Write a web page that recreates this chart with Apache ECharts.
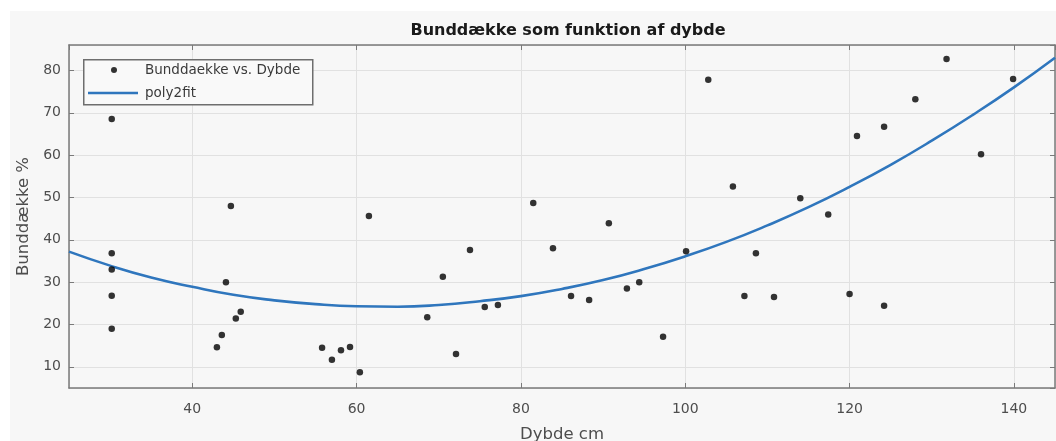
<!DOCTYPE html>
<html>
<head>
<meta charset="utf-8">
<script src="https://cdn.jsdelivr.net/npm/echarts@6/dist/echarts.min.js"></script>
<style>
html,body{margin:0;padding:0;background:#fff;}
#chart{width:1056px;height:441px;}
</style>
</head>
<body>
<div id="chart"></div>
<script>
// Measured data (Dybde cm, Bunddække %)
const depth = [30.2, 30.2, 30.2, 30.2, 30.2, 43.0, 43.6, 44.1, 44.7, 45.3, 45.9, 55.8, 57.0, 58.1, 59.2, 60.4, 61.5, 68.6, 70.5, 72.1, 73.8, 75.6, 77.2, 81.5, 83.9, 86.1, 88.3, 90.7, 92.9, 94.4, 97.3, 100.1, 102.8, 105.8, 107.2, 108.6, 110.8, 114.0, 117.4, 120.0, 120.9, 124.2, 124.2, 128.0, 131.8, 136.0, 139.9];
const cover = [68.5, 36.8, 33.0, 26.8, 19.0, 14.6, 17.5, 30.0, 48.0, 21.4, 23.0, 14.5, 11.7, 13.9, 14.7, 8.7, 45.6, 21.7, 31.3, 13.0, 37.6, 24.1, 24.6, 48.7, 38.0, 26.7, 25.8, 43.9, 28.5, 30.0, 17.1, 37.3, 77.8, 52.6, 26.7, 36.8, 26.5, 49.8, 46.0, 27.2, 64.5, 24.4, 66.7, 73.2, 82.7, 60.2, 78.0];
// poly2fit curve
const fitX = [25, 30, 35, 40, 45, 50, 55, 60, 65, 70, 75, 80, 85, 90, 95, 100, 105, 110, 115, 120, 125, 130, 135, 140, 145];
const fitY = [37.2, 33.9, 31.1, 28.9, 27.0, 25.7, 24.8, 24.3, 24.2, 24.6, 25.5, 26.7, 28.4, 30.5, 33.1, 36.1, 39.5, 43.4, 47.7, 52.5, 57.7, 63.4, 69.5, 76.0, 83.0];
const xRange = [25, 145];
const yRange = [5, 86];

const scatterData = depth.map((d, i) => [d, cover[i]]);
const fitData = fitX.map((x, i) => [x, fitY[i]]);

const FONT = 'DejaVu Sans, Liberation Sans, Arial, sans-serif';
const axisColor = '#7a7a7a';
const labelFont = {color: '#4d4d4d', fontSize: 14, fontFamily: FONT};
const nameFont = {color: '#4d4d4d', fontSize: 16.5, fontFamily: FONT};

function xAx(pos, main) {
  return {
    type: 'value', position: pos, min: xRange[0], max: xRange[1], splitNumber: 5,
    axisLine: {show: true, onZero: false, lineStyle: {color: axisColor, width: 1.5}},
    axisTick: {show: true, inside: true, length: 5, lineStyle: {color: axisColor, width: 1}},
    axisLabel: main ? Object.assign({show: true, margin: 14, showMinLabel: false, showMaxLabel: false}, labelFont) : {show: false},
    splitLine: {show: main, lineStyle: {color: '#e1e1e1', width: 1}},
    name: main ? 'Dybde cm' : '', nameLocation: 'middle', nameGap: 38,
    nameTextStyle: nameFont
  };
}
function yAx(pos, main) {
  return {
    type: 'value', position: pos, min: yRange[0], max: yRange[1], splitNumber: 8,
    axisLine: {show: true, onZero: false, lineStyle: {color: axisColor, width: 1.5}},
    axisTick: {show: true, inside: true, length: 5, lineStyle: {color: axisColor, width: 1}},
    axisLabel: main ? Object.assign({show: true, margin: 8, showMinLabel: false, showMaxLabel: false}, labelFont) : {show: false},
    splitLine: {show: main, lineStyle: {color: '#e1e1e1', width: 1}},
    name: main ? 'Bunddække %' : '', nameLocation: 'middle', nameGap: 36,
    nameTextStyle: nameFont
  };
}

const chart = echarts.init(document.getElementById('chart'), null, {renderer: 'canvas'});
chart.setOption({
  backgroundColor: '#ffffff',
  animation: false,
  graphic: [
    {type: 'rect', left: 10, top: 11, shape: {width: 1046, height: 430}, style: {fill: '#f7f7f7'}, z: -10},
    {type: 'rect', left: 83, top: 59, shape: {width: 229, height: 45}, style: {fill: '#f9f9f9', stroke: '#6e6e6e', lineWidth: 1.5}, z: 50}
  ],
  title: {
    text: 'Bunddække som funktion af dybde',
    left: 563, textAlign: 'center', top: 18,
    textStyle: {color: '#1a1a1a', fontSize: 16, fontWeight: 'bold', fontFamily: FONT}
  },
  legend: [
    {
      data: [{name: 'Bunddaekke vs. Dybde', icon: 'circle'}], left: 111, top: 63, padding: 0, itemWidth: 6, itemHeight: 6,
      textStyle: {color: '#3a3a3a', fontSize: 13.5, fontFamily: FONT, padding: [0, 0, 0, 23]}, z: 60
    },
    {
      data: [{name: 'poly2fit', icon: 'rect'}], left: 88, top: 86, padding: 0, itemWidth: 50, itemHeight: 2.5,
      textStyle: {color: '#3a3a3a', fontSize: 13.5, fontFamily: FONT, padding: [0, 0, 0, 2]}, z: 60
    }
  ],
  grid: {left: 69, right: 1, top: 45, bottom: 53, containLabel: false, outerBoundsMode: 'none'},
  xAxis: [xAx('bottom', true), xAx('top', false)],
  yAxis: [yAx('left', true), yAx('right', false)],
  series: [
    {
      name: 'Bunddaekke vs. Dybde', type: 'scatter', xAxisIndex: 0, yAxisIndex: 0,
      data: scatterData, symbol: 'circle', symbolSize: 6.5,
      itemStyle: {color: '#000000'}, z: 5
    },
    {
      name: 'poly2fit', type: 'line', xAxisIndex: 0, yAxisIndex: 0,
      data: fitData, smooth: true, showSymbol: false, symbol: 'none',
      lineStyle: {color: '#2f76bd', width: 2.6}, itemStyle: {color: '#2f76bd'}, z: 4
    }
  ]
});
</script>
</body>
</html>
